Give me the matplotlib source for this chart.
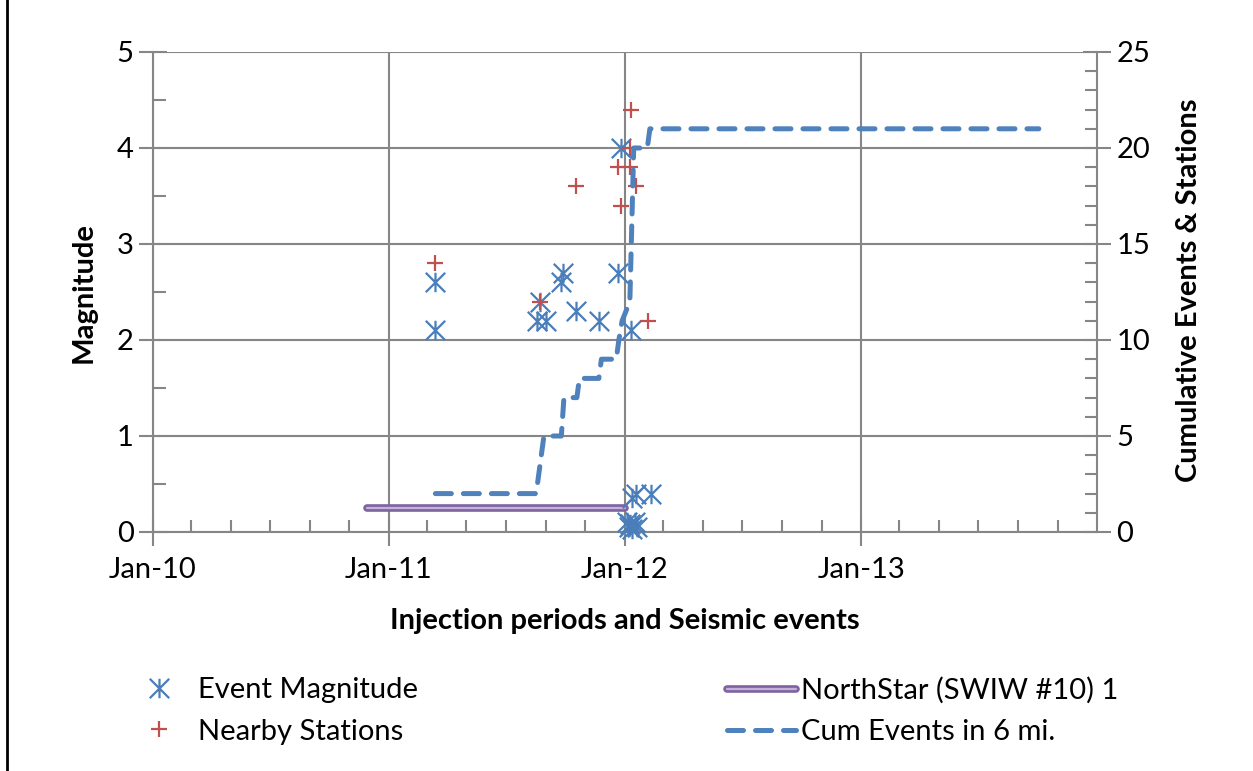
import pandas as pd
import matplotlib
matplotlib.use('Agg')
import matplotlib.pyplot as plt
import matplotlib.dates as mdates
import matplotlib.patheffects as pe
from matplotlib.path import Path
from matplotlib.lines import Line2D
from matplotlib.ticker import MultipleLocator

plt.rcParams['font.family'] = ['Lato', 'DejaVu Sans']

# Event magnitudes
event_dates = ['2011-03-14', '2011-03-14', '2011-08-18', '2011-08-23', '2011-09-01',
               '2011-09-25', '2011-09-27', '2011-10-18', '2011-11-22', '2011-12-21',
               '2011-12-27', '2012-01-11', '2012-01-12', '2012-01-18', '2012-02-11',
               '2012-01-04', '2012-01-07', '2012-01-10', '2012-01-13', '2012-01-17',
               '2012-01-20']
event_mag = [2.6, 2.1, 2.2, 2.4, 2.2,
             2.6, 2.7, 2.3, 2.2, 2.7,
             4.0, 2.1, 0.35, 0.4, 0.4,
             0.1, 0.05, 0.08, 0.03, 0.1,
             0.05]

# Nearby stations
station_dates = ['2011-03-14', '2011-08-23', '2011-10-18', '2011-12-22', '2012-01-09',
                 '2011-12-27', '2012-01-11', '2012-01-10', '2012-01-19', '2012-02-06']
station_vals = [2.8, 2.4, 3.6, 3.8, 3.8,
                3.4, 4.4, 4.0, 3.6, 2.2]

# NorthStar (SWIW #10) 1 injection period
inj_dates = ['2010-11-28', '2012-01-01']
inj_vals = [0.25, 0.25]

# Cumulative events in 6 mi (secondary axis)
cum_dates = ['2011-03-14', '2011-08-17', '2011-08-29', '2011-09-25', '2011-09-29',
             '2011-10-19', '2011-10-23', '2011-11-22', '2011-11-26', '2011-12-19',
             '2011-12-23', '2011-12-28', '2012-01-09', '2012-01-15', '2012-02-05',
             '2012-02-09', '2013-10-03']
cum_vals = [2, 2, 5, 5, 7,
            7, 8, 8, 9, 9,
            10, 11, 12, 20, 20,
            21, 21]

grey = '#868686'
star = Path([(0, -1), (0, 1), (-1, -1), (1, 1), (-1, 1), (1, -1)],
            [Path.MOVETO, Path.LINETO, Path.MOVETO, Path.LINETO, Path.MOVETO, Path.LINETO])

W, H = 1253, 771
fig = plt.figure(figsize=(W / 100, H / 100), dpi=100)
ax = fig.add_axes([153 / W, (H - 532) / H, (1097 - 153) / W, 480 / H])
ax2 = ax.twinx()

ax.set_xlim(pd.Timestamp('2010-01-01'), pd.Timestamp('2014-01-01'))
ax.set_ylim(0, 5)
ax2.set_ylim(0, 25)

ax.xaxis.set_major_formatter(mdates.DateFormatter('%b-%y'))
ax.xaxis.set_minor_locator(mdates.MonthLocator(bymonth=[3, 5, 7, 9, 11]))
ax.set_xticks([pd.Timestamp(f'{y}-01-01') for y in (2010, 2011, 2012, 2013)])
ax.yaxis.set_major_locator(MultipleLocator(1))
ax.yaxis.set_minor_locator(MultipleLocator(0.5))
ax2.yaxis.set_major_locator(MultipleLocator(5))
ax2.yaxis.set_minor_locator(MultipleLocator(1))

ax.grid(True, which='major', color=grey, lw=1.5)
ax.set_axisbelow(True)
for a in (ax, ax2):
    for s in a.spines.values():
        s.set_color(grey)
        s.set_linewidth(1.5)
    a.spines['top'].set_visible(False)
ax.spines['right'].set_visible(False)
ax2.spines['left'].set_visible(False)
ax2.spines['bottom'].set_visible(False)

ax.tick_params(axis='both', which='major', direction='inout', length=20, width=1.5,
               color=grey, labelsize=21, pad=4)
ax.tick_params(axis='x', which='major', pad=8)
ax.tick_params(axis='both', which='minor', direction='in', length=9, width=1.5, color=grey)
ax2.tick_params(axis='y', which='major', direction='inout', length=20, width=1.5,
                color=grey, labelsize=21, pad=4)
ax2.tick_params(axis='y', which='minor', direction='in', length=9, width=1.5, color=grey)

ax.plot(pd.to_datetime(inj_dates), inj_vals, color='#C2B4D8', lw=1.6,
        solid_capstyle='round', label='NorthStar (SWIW #10) 1', zorder=3,
        path_effects=[pe.Stroke(linewidth=5.5, foreground='#8064A2', capstyle='round'), pe.Normal()])
ax.plot(pd.to_datetime(event_dates), event_mag, ls='none', marker=star, ms=14,
        mew=1.6, color='#4A7EBB', label='Event Magnitude', clip_on=False, zorder=4)
ax.plot(pd.to_datetime(station_dates), station_vals, ls='none', marker='+', ms=11,
        mew=1.6, color='#C0504D', label='Nearby Stations', zorder=5)

ax2.plot(pd.to_datetime(cum_dates), cum_vals, color='#4F81BD', lw=3.6,
         ls=(0, (3.2, 2.4)), dash_capstyle='round', label='Cum Events in 6 mi.')

fig.text(84 / W, 1 - 293 / H, 'Magnitude', rotation=90, ha='center', va='center',
         fontsize=21, fontweight='bold')
fig.text(1189 / W, 1 - 290 / H, 'Cumulative Events & Stations', rotation=90,
         ha='center', va='center', fontsize=21, fontweight='bold')
fig.text(625 / W, 1 - 621 / H, 'Injection periods and Seismic events', ha='center',
         va='center', fontsize=21, fontweight='bold')

h1, l1 = ax.get_legend_handles_labels()
h2, l2 = ax2.get_legend_handles_labels()
fig.legend([h1[1], h1[2]], [l1[1], l1[2]], loc='center left',
           bbox_to_anchor=(144 / W, 1 - 711 / H), frameon=False, fontsize=21,
           handlelength=1.0, handletextpad=0.85, borderpad=0, borderaxespad=0,
           labelspacing=0.52)
fig.legend([h1[0], h2[0]], [l1[0], l2[0]], loc='center left',
           bbox_to_anchor=(727 / W, 1 - 711 / H), frameon=False, fontsize=21,
           handlelength=2.37, handletextpad=0.15, borderpad=0, borderaxespad=0,
           labelspacing=0.52)

fig.add_artist(Line2D([7 / W, 7 / W], [0, 1], color='black', lw=2))

fig.savefig('out.png', dpi=100)
